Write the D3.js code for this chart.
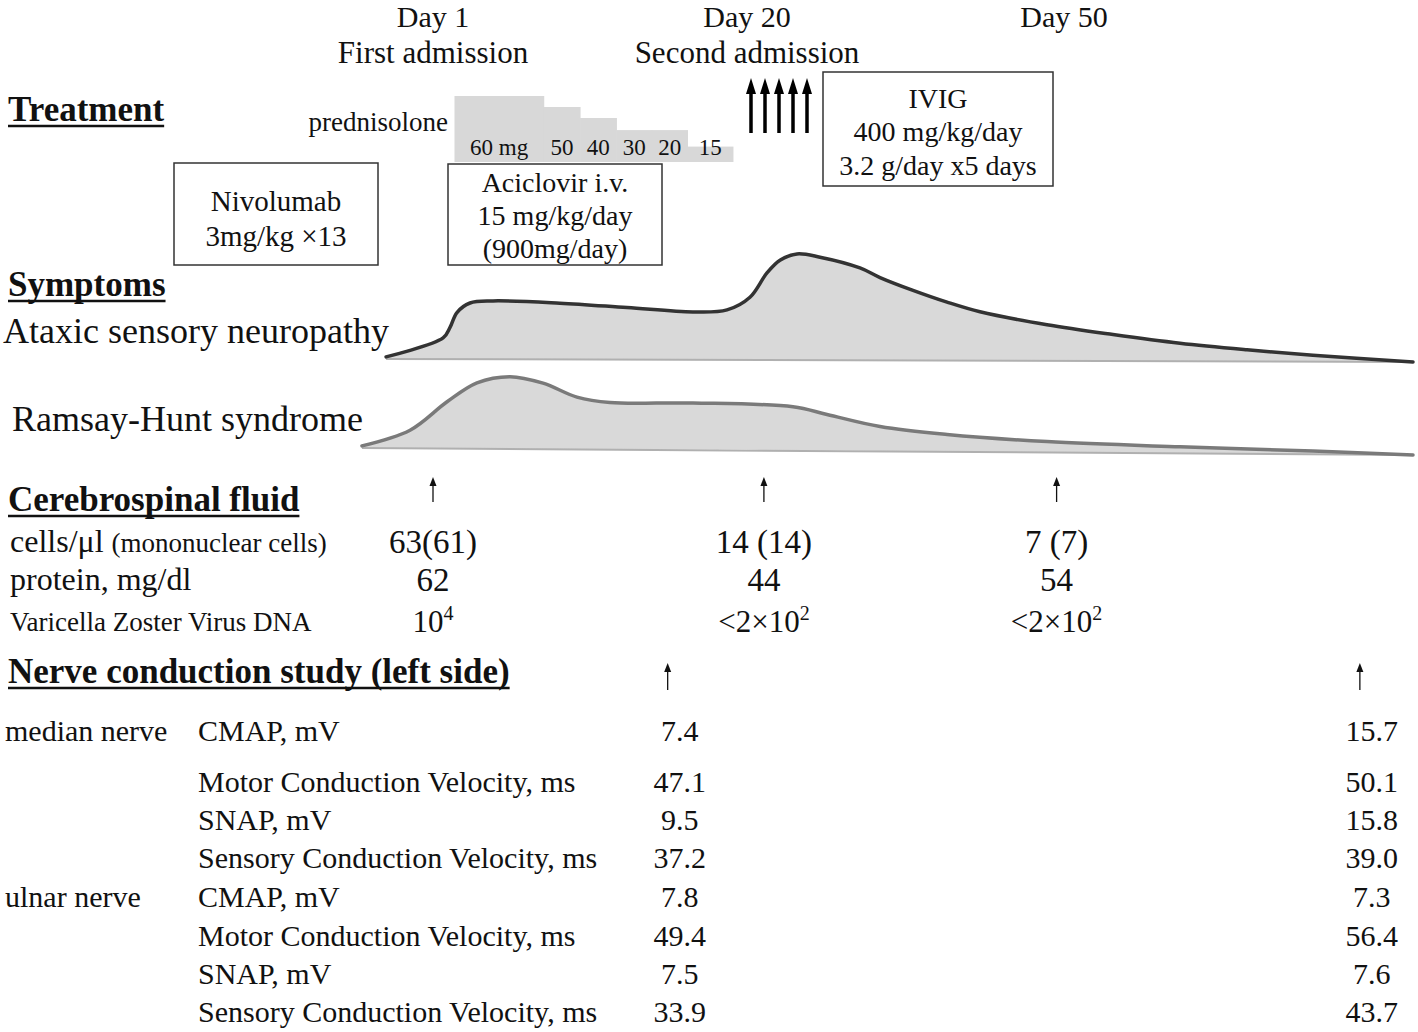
<!DOCTYPE html>
<html><head><meta charset="utf-8">
<script src="https://cdn.jsdelivr.net/npm/d3@7"></script>
<style>
body{margin:0;background:#fff;}
svg text{font-family:"Liberation Serif","Times New Roman",serif;fill:#111;}
</style></head><body>
<svg id="chart" width="1418" height="1032"></svg>
<script>
// ---------------- data ----------------
const timelineDays = [1, 20, 50];
const timelineLabels = ["Day 1", "Day 20", "Day 50"];
const timelineSubLabels = ["First admission", "Second admission", ""];

const prednisoloneDoses = [60, 50, 40, 30, 20, 15];
const prednisoloneLabels = ["60 mg", "50", "40", "30", "20", "15"];
const prednisoloneDrawnLevel = [60, 50, 40, 29, 29, 14];
const prednisoloneBoundaryDays = [2.3, 7.7, 9.9, 12.1, 14.25, 16.4, 19.15];

const ivigInfusions = [1, 2, 3, 4, 5];

const ataxicDays = [-1.84, 1.61, 2.03, 2.45, 3.24, 4.63, 8.68, 12.74, 16.73, 18.79, 20.28, 21.89, 23.12, 24.73, 26.91, 30.69, 32.59, 35.71, 38.93, 42.05, 48.39, 54.64, 60.98, 67.32, 73.56, 83.03];
const ataxicSeverity = [2, 20, 30, 44, 53, 55, 53, 49, 45, 47, 59, 82, 94, 100, 97, 87, 78, 66, 55, 46, 34, 25, 17, 11, 6, 0];

const ramsayDays = [-3.30, -0.39, 1.85, 3.66, 5.66, 7.66, 9.71, 11.71, 16.73, 24.35, 27.57, 32.59, 38.93, 48.39, 60.98, 73.56, 83.03];
const ramsaySeverity = [2, 17, 44, 62, 68, 62, 49, 44, 44, 41, 34, 23, 16, 10, 6, 3, 0];

const csfDays = [1, 21.6, 49.3];
const csfCells = ["63(61)", "14 (14)", "7 (7)"];
const csfProtein = [62, 44, 54];
const csfVzvPrefix = ["10", "<2×10", "<2×10"];
const csfVzvExponent = [4, 2, 2];

const ncsDays = [15.2, 78];
const ncsNerves = ["median nerve", "ulnar nerve"];
const ncsParams = ["CMAP, mV", "Motor Conduction Velocity, ms", "SNAP, mV", "Sensory Conduction Velocity, ms"];
const ncsMedianFirst = [7.4, 47.1, 9.5, 37.2];
const ncsMedianSecond = [15.7, 50.1, 15.8, 39.0];
const ncsUlnarFirst = [7.8, 49.4, 7.5, 33.9];
const ncsUlnarSecond = [7.3, 56.4, 7.6, 43.7];

// ---------------- drawing ----------------
const svg = d3.select("#chart");
const x = d3.scaleLinear().domain(timelineDays).range([433, 747, 1064]);

function heading(txt, xx, y) {
  const t = svg.append("text").attr("x", xx).attr("y", y)
    .attr("font-size", 35).attr("font-weight", "bold").text(txt);
  const w = t.node().getComputedTextLength();
  svg.append("line").attr("x1", xx).attr("x2", xx + w)
    .attr("y1", y + 5).attr("y2", y + 5).attr("stroke", "#111").attr("stroke-width", 2.5);
}

// timeline header
svg.selectAll("text.day").data(timelineDays).join("text")
  .attr("class", "day").attr("x", d => x(d)).attr("y", 27)
  .attr("text-anchor", "middle").attr("font-size", 30)
  .text((d, i) => timelineLabels[i]);
svg.selectAll("text.sub").data(timelineDays).join("text")
  .attr("class", "sub").attr("x", d => x(d)).attr("y", 63)
  .attr("text-anchor", "middle").attr("font-size", 31)
  .text((d, i) => timelineSubLabels[i]);

// Treatment
heading("Treatment", 8, 121);
svg.append("text").attr("x", 448).attr("y", 131).attr("text-anchor", "end")
  .attr("font-size", 27).text("prednisolone");

const predY = d3.scaleLinear().domain([0, 60]).range([162, 96]);
const pred = prednisoloneDoses.map((d, i) => ({
  dose: d, label: prednisoloneLabels[i], level: prednisoloneDrawnLevel[i],
  x0: prednisoloneBoundaryDays[i], x1: prednisoloneBoundaryDays[i + 1]
}));
svg.selectAll("rect.pred").data(pred).join("rect")
  .attr("class", "pred")
  .attr("x", d => x(d.x0)).attr("width", d => x(d.x1) - x(d.x0) + 0.5)
  .attr("y", d => predY(d.level)).attr("height", d => predY(0) - predY(d.level))
  .attr("fill", "#d8d8d8");
svg.selectAll("text.pred").data(pred).join("text")
  .attr("class", "pred").attr("x", d => (x(d.x0) + x(d.x1)) / 2).attr("y", 155)
  .attr("text-anchor", "middle").attr("font-size", 23).text(d => d.label);

// boxes
function box(x0, y0, x1, y1, lines, baselines, fs) {
  svg.append("rect").attr("x", x0).attr("y", y0).attr("width", x1 - x0).attr("height", y1 - y0)
    .attr("fill", "none").attr("stroke", "#333").attr("stroke-width", 1.5);
  lines.forEach((l, i) => {
    svg.append("text").attr("x", (x0 + x1) / 2).attr("y", baselines[i])
      .attr("text-anchor", "middle").attr("font-size", fs).text(l);
  });
}
box(174, 163, 378, 265, ["Nivolumab", "3mg/kg \u00d713"], [211, 246], 29);
box(448, 164, 662, 265, ["Aciclovir i.v.", "15 mg/kg/day", "(900mg/day)"], [192, 225, 258], 28);
box(823, 72, 1053, 186, ["IVIG", "400 mg/kg/day", "3.2 g/day x5 days"], [108, 141, 175], 28);

// IVIG arrows
const ivX = d3.scalePoint().domain(ivigInfusions).range([751, 807]);
const iv = svg.selectAll("g.iv").data(ivigInfusions).join("g").attr("class", "iv");
iv.append("line").attr("x1", d => ivX(d)).attr("x2", d => ivX(d))
  .attr("y1", 133).attr("y2", 90).attr("stroke", "#000").attr("stroke-width", 3.5);
iv.append("path").attr("d", d => `M${ivX(d)},78 L${ivX(d) - 5},94 L${ivX(d) + 5},94 Z`).attr("fill", "#000");

// Symptoms
heading("Symptoms", 8, 296);
svg.append("text").attr("x", 3).attr("y", 343).attr("font-size", 36).text("Ataxic sensory neuropathy");
svg.append("text").attr("x", 12).attr("y", 431).attr("font-size", 36).text("Ramsay-Hunt syndrome");

const sevH = d3.scaleLinear().domain([0, 100]).range([0, 106]);
function symptom(days, sev, baseRange, stroke) {
  const data = days.map((d, i) => ({ day: d, s: sev[i] }));
  const base = d3.scaleLinear().domain([days[0], days[days.length - 1]]).range(baseRange);
  const curve = d3.curveCatmullRom.alpha(0.5);
  const area = d3.area().x(d => x(d.day)).y0(d => base(d.day)).y1(d => base(d.day) - sevH(d.s))
    .curve(curve);
  const line = d3.line().x(d => x(d.day)).y(d => base(d.day) - sevH(d.s)).curve(curve);
  svg.append("path").datum(data).attr("d", area).attr("fill", "#d9d9d9");
  svg.append("line").attr("x1", x(days[0])).attr("x2", x(days[days.length - 1]))
    .attr("y1", base(days[0])).attr("y2", base(days[days.length - 1]))
    .attr("stroke", "#b0b0b0").attr("stroke-width", 2);
  svg.append("path").datum(data).attr("d", line).attr("fill", "none")
    .attr("stroke", stroke).attr("stroke-width", 3.5).attr("stroke-linecap", "round");
}
symptom(ataxicDays, ataxicSeverity, [359, 362], "#333");
symptom(ramsayDays, ramsaySeverity, [448, 455], "#7a7a7a");

// thin arrows
function thinArrow(xx, yTop, yBot) {
  svg.append("line").attr("x1", xx).attr("x2", xx).attr("y1", yTop + 4).attr("y2", yBot)
    .attr("stroke", "#111").attr("stroke-width", 1.3);
  svg.append("path").attr("d", `M${xx},${yTop} L${xx - 3.5},${yTop + 9} L${xx + 3.5},${yTop + 9} Z`).attr("fill", "#111");
}

// CSF
heading("Cerebrospinal fluid", 8, 511);
csfDays.forEach(d => thinArrow(x(d), 477, 502));
const cl = svg.append("text").attr("x", 10).attr("y", 552).attr("font-size", 32);
cl.append("tspan").text("cells/\u03bcl ");
cl.append("tspan").attr("font-size", 27).text("(mononuclear cells)");
svg.append("text").attr("x", 10).attr("y", 590).attr("font-size", 32).text("protein, mg/dl");
svg.append("text").attr("x", 10).attr("y", 631).attr("font-size", 27).text("Varicella Zoster Virus DNA");

svg.selectAll("text.cells").data(csfCells).join("text").attr("class", "cells")
  .attr("x", (d, i) => x(csfDays[i])).attr("y", 553).attr("text-anchor", "middle")
  .attr("font-size", 33).text(d => d);
svg.selectAll("text.prot").data(csfProtein).join("text").attr("class", "prot")
  .attr("x", (d, i) => x(csfDays[i])).attr("y", 591).attr("text-anchor", "middle")
  .attr("font-size", 33).text(d => d);
const vz = svg.selectAll("text.vzv").data(csfVzvPrefix).join("text").attr("class", "vzv")
  .attr("x", (d, i) => x(csfDays[i])).attr("y", 632).attr("text-anchor", "middle")
  .attr("font-size", 31);
vz.append("tspan").text(d => d);
vz.append("tspan").attr("font-size", 20).attr("dy", -12).text((d, i) => csfVzvExponent[i]);

// NCS
heading("Nerve conduction study (left side)", 8, 683);
ncsDays.forEach(d => thinArrow(x(d), 663, 690));
const rowY = [741, 792, 830, 868, 907, 946, 984, 1022];
const ncsRows = [];
ncsNerves.forEach((n, ni) => {
  const first = ni === 0 ? ncsMedianFirst : ncsUlnarFirst;
  const second = ni === 0 ? ncsMedianSecond : ncsUlnarSecond;
  ncsParams.forEach((p, pi) => ncsRows.push({ nerve: pi === 0 ? n : "", param: p, v: [first[pi], second[pi]] }));
});
const rows = svg.selectAll("g.ncs").data(ncsRows).join("g").attr("class", "ncs")
  .attr("transform", (d, i) => `translate(0,${rowY[i]})`);
rows.append("text").attr("x", 5).attr("font-size", 30).text(d => d.nerve);
rows.append("text").attr("x", 198).attr("font-size", 30).text(d => d.param);
rows.selectAll("text.v").data(d => d.v).join("text").attr("class", "v")
  .attr("x", (d, i) => x(ncsDays[i]) + 12).attr("text-anchor", "middle")
  .attr("font-size", 30).text(d => d.toFixed(1));
</script>
</body></html>
